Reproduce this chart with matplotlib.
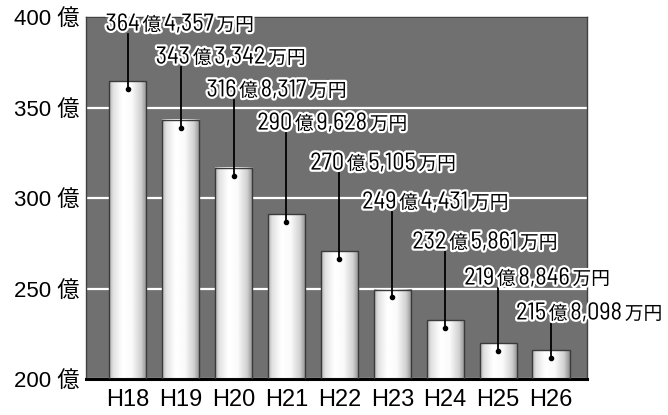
import re
import numpy as np
import matplotlib.pyplot as plt
import matplotlib.patheffects as pe
from matplotlib.offsetbox import TextArea, HPacker, AnnotationBbox

plt.rcParams['font.family'] = ['Liberation Sans', 'Noto Sans CJK JP']

years = ['H18', 'H19', 'H20', 'H21', 'H22', 'H23', 'H24', 'H25', 'H26']
values = [364.4357, 343.3342, 316.8317, 290.9628, 270.5105, 249.4431, 232.5861, 219.8846, 215.8098]
labels = ['364億4,357万円', '343億3,342万円', '316億8,317万円', '290億9,628万円',
          '270億5,105万円', '249億4,431万円', '232億5,861万円', '219億8,846万円',
          '215億8,098万円']
y_ticks = [200, 250, 300, 350, 400]
y_ticklabels = ['200 億', '250 億', '300 億', '350 億', '400 億']

# label layout (where the callouts sit)
label_y = [396.1, 377.9, 359.7, 341.4, 319.3, 297.8, 275.7, 255.8, 236.5]
label_dx = [-0.42, -0.47, -0.51, -0.55, -0.55, -0.57, -0.62, -0.64, -0.66]

fig = plt.figure(figsize=(6.68, 4.15), dpi=100)
ax = fig.add_axes([0.1287, 0.0867, 0.75, 0.8723])
ax.set_facecolor('#707070')

bw = 0.70
x = np.arange(len(years))

# cylinder-like shading across each bar
t = np.linspace(0, 1, 64)
shade = np.interp(t, [0, 0.1, 0.35, 0.6, 0.85, 1],
                  [0.68, 0.88, 1.0, 0.98, 0.82, 0.56])[None, :]

for i, v in zip(x, values):
    ax.imshow(shade, cmap='gray', vmin=0, vmax=1, aspect='auto',
              extent=[i - bw / 2, i + bw / 2, 200, v], zorder=2,
              interpolation='bilinear')
ax.bar(x, [v - 200 for v in values], bottom=200, width=bw,
       facecolor='none', edgecolor='#3a3a3a', linewidth=1.0, zorder=3)

halo = [pe.withStroke(linewidth=3.2, foreground='white')]
num_props = dict(fontsize=17.5, color='black', path_effects=halo, fontweight=400,
                 family=['Barlow Semi Condensed', 'Liberation Sans Narrow',
                         'Noto Sans CJK JP'])
cjk_props = dict(fontsize=13.5, color='black', path_effects=halo,
                 family=['Noto Sans CJK JP'])

for i, (v, lab, ly, dx) in enumerate(zip(values, labels, label_y, label_dx)):
    ax.plot([i, i], [v - 4.4, ly - 5.5], color='black', linewidth=1.3, zorder=4)
    ax.plot(i, v - 4.4, 'o', color='black', markersize=3, zorder=4)
    parts = re.findall(r'\d[\d,]*|[^\d,]+', lab)
    areas = [TextArea(p, textprops=num_props if p[0].isdigit() else cjk_props)
             for p in parts]
    box = HPacker(children=areas, align='baseline', pad=0, sep=2)
    ab = AnnotationBbox(box, (i + dx, ly), xycoords='data', frameon=False,
                        box_alignment=(0, 0.5), pad=0, annotation_clip=False)
    ab.set_zorder(6)
    ax.add_artist(ab)

ax.set_xlim(-0.79, 8.68)
ax.set_ylim(200, 400)
ax.set_yticks(y_ticks)
ax.set_yticklabels(y_ticklabels, fontsize=16)
ax.set_xticks(x)
ax.set_xticklabels(years, fontsize=17)
ax.tick_params(length=0)
ax.tick_params(axis='y', pad=5)
ax.tick_params(axis='x', pad=7)

ax.yaxis.grid(True, color='white', linewidth=1.6)
ax.set_axisbelow(True)

for s in ['top', 'left', 'right']:
    ax.spines[s].set_color('#404040')
    ax.spines[s].set_linewidth(1.0)
ax.spines['bottom'].set_color('black')
ax.spines['bottom'].set_linewidth(2.2)

plt.savefig('out.png', dpi=100)
